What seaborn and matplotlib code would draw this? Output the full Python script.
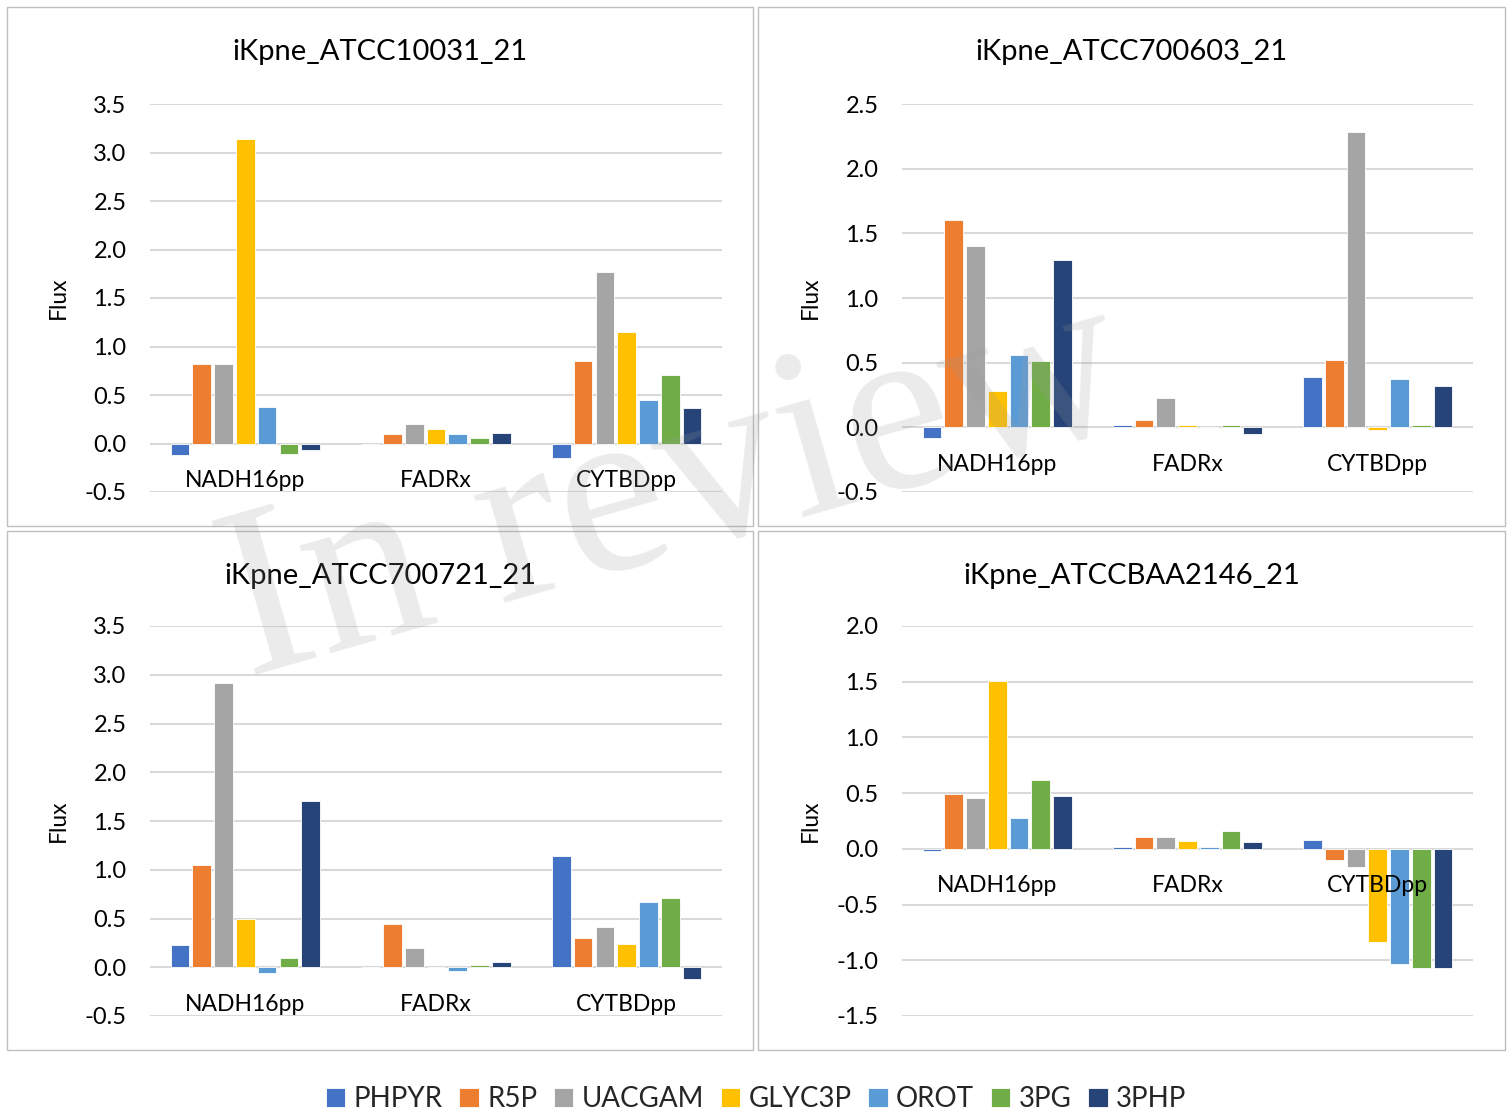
import pandas as pd
import matplotlib.pyplot as plt
import matplotlib.patches as mpatches
import numpy as np
import seaborn as sns

# reactions on the x axis, metabolites as the bar series
categories = ['NADH16pp', 'FADRx', 'CYTBDpp']
series = ['PHPYR', 'R5P', 'UACGAM', 'GLYC3P', 'OROT', '3PG', '3PHP']
colors = ['#4472C4', '#ED7D31', '#A5A5A5', '#FFC000', '#5B9BD5', '#70AD47', '#264478']

titles = ['iKpne_ATCC10031_21', 'iKpne_ATCC700603_21',
          'iKpne_ATCC700721_21', 'iKpne_ATCCBAA2146_21']

# values per category, one entry per series (PHPYR..3PHP)
atcc10031 = [[-0.12, 0.82, 0.82, 3.14, 0.38, -0.11, -0.07],
             [0.0, 0.10, 0.20, 0.15, 0.10, 0.06, 0.11],
             [-0.15, 0.85, 1.77, 1.15, 0.45, 0.71, 0.37]]
atcc700603 = [[-0.08, 1.60, 1.40, 0.28, 0.56, 0.51, 1.29],
              [0.02, 0.06, 0.23, 0.02, 0.0, 0.02, -0.05],
              [0.39, 0.52, 2.28, -0.02, 0.37, 0.02, 0.32]]
atcc700721 = [[0.23, 1.05, 2.92, 0.49, -0.06, 0.09, 1.71],
              [0.0, 0.44, 0.20, 0.0, -0.04, 0.02, 0.05],
              [1.14, 0.30, 0.41, 0.24, 0.67, 0.71, -0.12]]
atccbaa2146 = [[-0.02, 0.49, 0.46, 1.51, 0.28, 0.62, 0.47],
               [0.02, 0.11, 0.11, 0.07, 0.02, 0.16, 0.06],
               [0.08, -0.10, -0.16, -0.84, -1.03, -1.07, -1.07]]

panel_values = [atcc10031, atcc700603, atcc700721, atccbaa2146]
y_limits = [(-0.5, 3.5), (-0.5, 2.5), (-0.5, 3.5), (-1.5, 2.0)]

sns.set_theme(style='white')
plt.rcParams['font.family'] = ['Lato', 'DejaVu Sans']
plt.rcParams['axes.unicode_minus'] = False

W, H = 1512, 1117
fig = plt.figure(figsize=(W / 100, H / 100), dpi=100)

# panel frames (pixels: left, top, right, bottom) and plot areas
frames = [(7, 7, 753, 526), (758, 7, 1505, 526),
          (7, 531, 753, 1050), (758, 531, 1505, 1050)]
plot_areas = [(150, 104, 722, 492), (902, 104, 1473, 492),
              (150, 626, 722, 1016), (902, 626, 1473, 1016)]

handles, labels = None, None
for i in range(4):
    fl, ft, fr, fb = frames[i]
    fig.patches.append(mpatches.Rectangle((fl / W, 1 - fb / H), (fr - fl) / W, (fb - ft) / H,
                                          transform=fig.transFigure, fill=False,
                                          edgecolor='#bfbfbf', linewidth=1))
    fig.text((fl + fr) / 2 / W, 1 - (ft + 45) / H, titles[i], ha='center', va='center',
             fontsize=21, color='black')

    l, t, r, b = plot_areas[i]
    ax = fig.add_axes([l / W, 1 - b / H, (r - l) / W, (b - t) / H])

    rows = []
    for c, vals in zip(categories, panel_values[i]):
        for s, v in zip(series, vals):
            rows.append({'reaction': c, 'metabolite': s, 'flux': v})
    df = pd.DataFrame(rows)

    sns.barplot(data=df, x='reaction', y='flux', hue='metabolite', order=categories,
                hue_order=series, palette=colors, saturation=1, width=0.8, gap=0.14,
                edgecolor='white', linewidth=0.6, ax=ax)
    if handles is None:
        handles, labels = ax.get_legend_handles_labels()
    ax.get_legend().remove()

    lo, hi = y_limits[i]
    ax.set_ylim(lo, hi)
    ax.set_xlim(-0.5, 2.5)
    ax.set_yticks(np.arange(lo, hi + 0.01, 0.5))
    ax.set_yticklabels([f'{v:.1f}' for v in np.arange(lo, hi + 0.01, 0.5)])
    ax.yaxis.grid(True, color='#d9d9d9', linewidth=1.5)
    ax.set_axisbelow(True)
    ax.xaxis.set_zorder(5)  # category labels sit on top of the bars
    for sp in ax.spines.values():
        sp.set_visible(False)
    ax.spines['bottom'].set_position(('data', 0))
    ax.tick_params(axis='x', length=0, pad=19, labelsize=16.5, labelcolor='black')
    ax.tick_params(axis='y', length=0, pad=17, labelsize=17, labelcolor='black')
    ax.set_xlabel('')
    ax.set_ylabel('Flux', fontsize=16.5, color='black', labelpad=11)

fig.legend(handles, labels, loc='center', bbox_to_anchor=(0.5, 1 - 1099 / H), ncol=7,
           frameon=False, fontsize=20, handlelength=0.7, handleheight=0.7,
           handletextpad=0.3, columnspacing=0.6)

# "In review" watermark across the figure
fig.text(0.447, 0.558, 'In review', rotation=16, ha='center', va='center',
         fontsize=175, family='Liberation Serif', color='#9b9b9b', alpha=0.2, zorder=10)

fig.savefig('out.png', dpi=100)
